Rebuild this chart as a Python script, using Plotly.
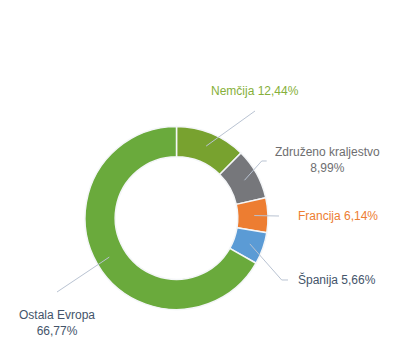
import math
import plotly.graph_objects as go

labels = ["Nemčija", "Združeno kraljestvo", "Francija", "Španija", "Ostala Evropa"]
values = [12.44, 8.99, 6.14, 5.66, 66.77]
label_texts = ["Nemčija 12,44%", "Združeno kraljestvo<br>8,99%", "Francija 6,14%",
               "Španija 5,66%", "Ostala Evropa<br>66,77%"]

W, H = 398, 353
slice_colors = ["#78A22F", "#76777B", "#ED7D31", "#5B9BD5", "#6AAA3C"]
text_colors = ["#86B03A", "#6E6E70", "#ED7D31", "#44546A", "#44546A"]
line_color = "#B9C3D2"

cx, cy, R = 176.5, 218.0, 91.5
hole = 0.67
anchor_r = 0.85 * R

# label positions (pixel coords) and elbow points for leader lines
label_pos = [(255, 91), (327, 160), (338, 216), (337, 279), (57, 323)]
elbows = [[(255, 111)], [(261.7, 161), (266.7, 161)], [(279, 216)],
          [(281.7, 280), (288, 280)], [(57, 292)]]

def px(x):
    return x / W

def py(y):
    return 1 - y / H

fig = go.Figure(go.Pie(
    labels=labels, values=values, sort=False, direction="clockwise", rotation=0,
    hole=hole, textinfo="none", hoverinfo="label+percent",
    marker=dict(colors=slice_colors, line=dict(color="#F4F6F8", width=1.5)),
    domain=dict(x=[px(cx - R), px(cx + R)], y=[py(cy + R), py(cy - R)]),
    showlegend=False,
))

total = sum(values)
cum = 0.0
shapes = []
annotations = []
for i, v in enumerate(values):
    mid = (cum + v / 2) / total * 2 * math.pi
    cum += v
    ax = cx + anchor_r * math.sin(mid)
    ay = cy - anchor_r * math.cos(mid)
    pts = [(ax, ay)] + elbows[i]
    path = "M " + " L ".join(f"{px(x):.5f},{py(y):.5f}" for x, y in pts)
    shapes.append(dict(type="path", xref="paper", yref="paper", path=path,
                       line=dict(color=line_color, width=1)))
    lx, ly = label_pos[i]
    annotations.append(dict(x=px(lx), y=py(ly), xref="paper", yref="paper",
                            text=label_texts[i], showarrow=False,
                            xanchor="center", yanchor="middle", align="center",
                            font=dict(family="Liberation Sans, Arial", size=12,
                                      color=text_colors[i])))

fig.update_layout(width=W, height=H, margin=dict(l=0, r=0, t=0, b=0),
                  paper_bgcolor="white", plot_bgcolor="white",
                  shapes=shapes, annotations=annotations)

fig.write_html("out.html")
